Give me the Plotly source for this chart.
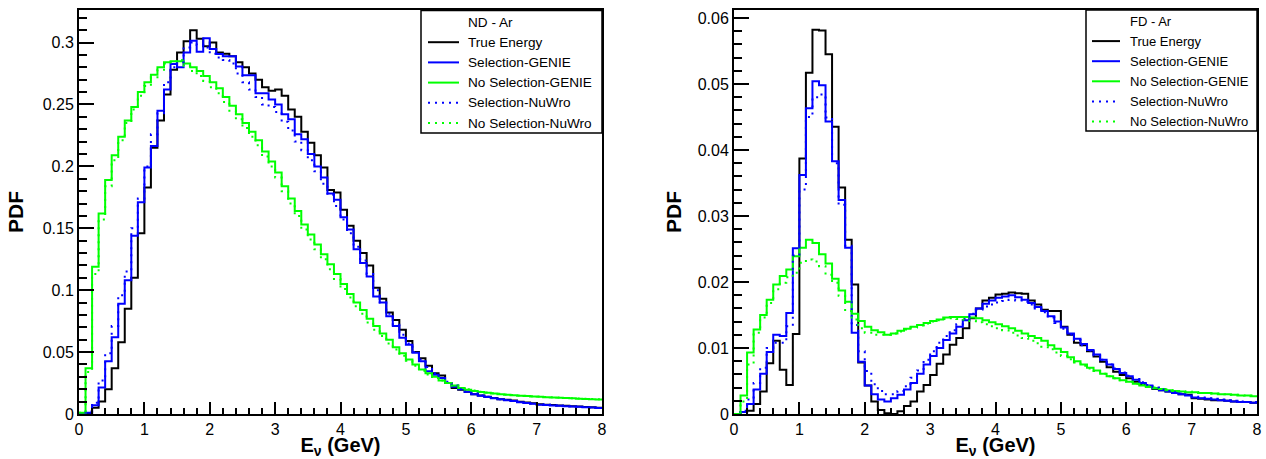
import plotly.graph_objects as go

# ---------------- data (PDF per 0.1 GeV bin, 0 - 8 GeV) ----------------
energy_edges = [round(0.1 * i, 1) for i in range(81)]

nd_true = [0.0, 0.0, 0.005, 0.010, 0.020, 0.037, 0.058, 0.085, 0.110, 0.146,
           0.183, 0.215, 0.237, 0.258, 0.278, 0.292, 0.301, 0.310, 0.303, 0.297,
           0.300, 0.292, 0.291, 0.289, 0.284, 0.280, 0.275, 0.270, 0.264, 0.261,
           0.262, 0.257, 0.246, 0.240, 0.228, 0.219, 0.209, 0.199, 0.181, 0.179,
           0.165, 0.152, 0.140, 0.130, 0.120, 0.102, 0.093, 0.082, 0.076, 0.068,
           0.059, 0.050, 0.045, 0.039, 0.033, 0.031, 0.025, 0.021, 0.0195, 0.018,
           0.016, 0.015, 0.014, 0.013, 0.012, 0.0115, 0.011, 0.0098, 0.0092, 0.0086,
           0.0078, 0.0075, 0.0072, 0.0069, 0.0066, 0.0063, 0.006, 0.0057, 0.0054, 0.0051]

nd_sel_genie = [0.0, 0.001, 0.007, 0.0215, 0.0426, 0.062, 0.089, 0.108, 0.144, 0.171,
                0.199, 0.2165, 0.245, 0.262, 0.2826, 0.280, 0.292, 0.3014, 0.2926, 0.3034,
                0.2947, 0.2907, 0.289, 0.289, 0.2806, 0.2737, 0.2737, 0.259, 0.259, 0.254,
                0.250, 0.242, 0.238, 0.226, 0.222, 0.210, 0.200, 0.191, 0.178, 0.173,
                0.159, 0.149, 0.133, 0.122, 0.111, 0.095, 0.090, 0.079, 0.071, 0.0615,
                0.056, 0.0494, 0.0427, 0.0345, 0.0318, 0.029, 0.025, 0.022, 0.020, 0.018,
                0.016, 0.0148, 0.0138, 0.0128, 0.0119, 0.0112, 0.0105, 0.0095, 0.0088, 0.0082,
                0.0075, 0.0072, 0.0069, 0.0066, 0.0063, 0.0061, 0.0058, 0.0055, 0.0052, 0.0049]

nd_nosel_genie = [0.001, 0.037, 0.119, 0.162, 0.189, 0.209, 0.224, 0.237, 0.248, 0.260,
                  0.268, 0.274, 0.280, 0.284, 0.285, 0.285, 0.283, 0.280, 0.277, 0.273,
                  0.268, 0.263, 0.256, 0.249, 0.242, 0.235, 0.228, 0.221, 0.212, 0.204,
                  0.195, 0.184, 0.174, 0.164, 0.153, 0.145, 0.137, 0.129, 0.121, 0.113,
                  0.105, 0.097, 0.090, 0.084, 0.077, 0.071, 0.065, 0.060, 0.054, 0.049,
                  0.044, 0.040, 0.036, 0.033, 0.030, 0.027, 0.025, 0.023, 0.021, 0.0195,
                  0.0185, 0.0178, 0.0172, 0.0166, 0.016, 0.0155, 0.0151, 0.0148, 0.0145, 0.0142,
                  0.0139, 0.0136, 0.0133, 0.0131, 0.0129, 0.0127, 0.0124, 0.0122, 0.012, 0.0118]

nd_sel_nuwro = [0.0, 0.002, 0.009, 0.027, 0.049, 0.071, 0.096, 0.115, 0.150, 0.174,
                0.200, 0.226, 0.243, 0.268, 0.280, 0.284, 0.296, 0.300, 0.298, 0.296,
                0.291, 0.288, 0.286, 0.283, 0.275, 0.268, 0.262, 0.256, 0.250, 0.248,
                0.244, 0.236, 0.229, 0.220, 0.213, 0.205, 0.196, 0.186, 0.177, 0.168,
                0.157, 0.146, 0.135, 0.124, 0.113, 0.100, 0.090, 0.081, 0.072, 0.064,
                0.057, 0.050, 0.044, 0.038, 0.033, 0.029, 0.026, 0.023, 0.020, 0.018,
                0.0165, 0.015, 0.014, 0.013, 0.012, 0.0113, 0.0106, 0.0098, 0.0091, 0.0085,
                0.008, 0.0076, 0.0072, 0.0068, 0.0065, 0.0062, 0.0059, 0.0056, 0.0053, 0.005]

nd_nosel_nuwro = [0.001, 0.034, 0.113, 0.157, 0.184, 0.205, 0.221, 0.235, 0.246, 0.257,
                  0.265, 0.272, 0.278, 0.283, 0.285, 0.286, 0.281, 0.277, 0.273, 0.269,
                  0.264, 0.259, 0.252, 0.245, 0.238, 0.231, 0.224, 0.217, 0.208, 0.200,
                  0.191, 0.180, 0.170, 0.160, 0.149, 0.141, 0.133, 0.125, 0.117, 0.109,
                  0.101, 0.094, 0.087, 0.081, 0.074, 0.068, 0.063, 0.057, 0.052, 0.047,
                  0.043, 0.039, 0.035, 0.032, 0.029, 0.027, 0.025, 0.023, 0.021, 0.020,
                  0.019, 0.018, 0.0174, 0.0168, 0.0163, 0.0158, 0.0154, 0.015, 0.0147, 0.0144,
                  0.0141, 0.0138, 0.0135, 0.0133, 0.013, 0.0128, 0.0126, 0.0124, 0.0122, 0.012]

fd_true = [0.0, 0.0003, 0.0005, 0.0015, 0.0034, 0.0077, 0.0111, 0.0067, 0.0044, 0.0121,
           0.0387, 0.0517, 0.0582, 0.0581, 0.0545, 0.0435, 0.0343, 0.0264, 0.0196, 0.0078,
           0.0043, 0.0019, 0.0006, 0.0001, 0.0, 0.0004, 0.0012, 0.0019, 0.0034, 0.0044,
           0.0059, 0.0076, 0.0090, 0.0105, 0.0115, 0.0130, 0.0145, 0.0160, 0.0172, 0.0176,
           0.0181, 0.0182, 0.0184, 0.0183, 0.0182, 0.0172, 0.0166, 0.0158, 0.0156, 0.0156,
           0.0132, 0.0120, 0.0108, 0.0104, 0.0095, 0.0087, 0.0079, 0.0071, 0.0064, 0.0059,
           0.0054, 0.0049, 0.0045, 0.0042, 0.0038, 0.0036, 0.0034, 0.0032, 0.0030, 0.0029,
           0.0024, 0.0023, 0.0022, 0.0021, 0.0021, 0.0020, 0.0019, 0.0018, 0.0018, 0.0017]

fd_sel_genie = [0.0, 0.0003, 0.0015, 0.0037, 0.0061, 0.0094, 0.0120, 0.0118, 0.0153, 0.0251,
                0.0362, 0.0463, 0.0504, 0.0498, 0.0443, 0.0383, 0.0324, 0.0252, 0.0123, 0.0079,
                0.0043, 0.0030, 0.0022, 0.0019, 0.0024, 0.0029, 0.0037, 0.0047, 0.0061, 0.0075,
                0.0088, 0.0100, 0.0112, 0.0122, 0.0132, 0.0142, 0.0151, 0.0160, 0.0167, 0.0172,
                0.0176, 0.0178, 0.0180, 0.0177, 0.0173, 0.0168, 0.0162, 0.0156, 0.0148, 0.0140,
                0.0131, 0.0122, 0.0114, 0.0106, 0.0097, 0.0090, 0.0082, 0.0075, 0.0068, 0.0062,
                0.0057, 0.0052, 0.0047, 0.0043, 0.0039, 0.0036, 0.0034, 0.0032, 0.0030, 0.0028,
                0.0025, 0.0024, 0.0023, 0.0022, 0.0021, 0.0020, 0.0019, 0.0018, 0.0018, 0.0017]

fd_nosel_genie = [0.0, 0.0028, 0.0093, 0.0128, 0.0150, 0.0173, 0.0196, 0.0209, 0.0219, 0.0239,
                  0.0252, 0.0264, 0.0259, 0.0242, 0.0228, 0.0205, 0.0187, 0.0170, 0.0152, 0.0141,
                  0.0132, 0.0127, 0.0124, 0.0120, 0.0122, 0.0126, 0.0129, 0.0132, 0.0135, 0.0138,
                  0.0141, 0.0143, 0.0146, 0.0147, 0.0147, 0.0147, 0.0146, 0.0145, 0.0142, 0.0139,
                  0.0136, 0.0133, 0.0130, 0.0126, 0.0122, 0.0118, 0.0115, 0.0111, 0.0104, 0.0099,
                  0.0094, 0.0086, 0.0080, 0.0075, 0.0070, 0.0066, 0.0061, 0.0057, 0.0054, 0.0051,
                  0.0049, 0.0046, 0.0043, 0.0041, 0.0039, 0.0038, 0.0036, 0.0035, 0.0034, 0.0033,
                  0.0033, 0.0032, 0.0032, 0.0031, 0.0030, 0.0030, 0.0029, 0.0028, 0.0028, 0.0027]

fd_sel_nuwro = [0.0, 0.0005, 0.0022, 0.0047, 0.0070, 0.0100, 0.0108, 0.0108, 0.0133, 0.0240,
                0.0340, 0.0450, 0.0480, 0.0484, 0.0449, 0.0380, 0.0317, 0.0255, 0.0135, 0.0095,
                0.0065, 0.0045, 0.0035, 0.0030, 0.0030, 0.0035, 0.0042, 0.0055, 0.0066, 0.0082,
                0.0095, 0.0108, 0.0118, 0.0127, 0.0136, 0.0144, 0.0152, 0.0158, 0.0163, 0.0166,
                0.0169, 0.0171, 0.0173, 0.0172, 0.0170, 0.0166, 0.0160, 0.0154, 0.0146, 0.0138,
                0.0129, 0.0120, 0.0112, 0.0104, 0.0096, 0.0089, 0.0082, 0.0075, 0.0069, 0.0063,
                0.0058, 0.0053, 0.0048, 0.0044, 0.0040, 0.0037, 0.0035, 0.0033, 0.0031, 0.0029,
                0.0026, 0.0025, 0.0024, 0.0023, 0.0022, 0.0021, 0.0020, 0.0019, 0.0018, 0.0018]

fd_nosel_nuwro = [0.0, 0.0019, 0.0075, 0.0123, 0.0146, 0.0168, 0.0189, 0.0199, 0.0207, 0.0214,
                  0.0229, 0.0234, 0.0231, 0.0224, 0.0211, 0.0199, 0.0179, 0.0156, 0.0143, 0.0130,
                  0.0123, 0.0120, 0.0120, 0.0120, 0.0122, 0.0125, 0.0128, 0.0131, 0.0134, 0.0137,
                  0.0140, 0.0142, 0.0144, 0.0145, 0.0144, 0.0143, 0.0141, 0.0139, 0.0136, 0.0133,
                  0.0130, 0.0127, 0.0123, 0.0119, 0.0115, 0.0111, 0.0107, 0.0102, 0.0098, 0.0093,
                  0.0088, 0.0083, 0.0078, 0.0073, 0.0069, 0.0065, 0.0061, 0.0057, 0.0054, 0.0051,
                  0.0049, 0.0046, 0.0044, 0.0042, 0.0040, 0.0038, 0.0037, 0.0036, 0.0035, 0.0034,
                  0.0033, 0.0032, 0.0032, 0.0031, 0.0031, 0.0030, 0.0029, 0.0029, 0.0028, 0.0028]

series_names = ["True Energy", "Selection-GENIE", "No Selection-GENIE",
                "Selection-NuWro", "No Selection-NuWro"]
series_colors = ["#000000", "#0000ff", "#00ff00", "#0000ff", "#00ff00"]
series_dash = ["solid", "solid", "solid", "2px,5px", "2px,5px"]

nd_series = [nd_true, nd_sel_genie, nd_nosel_genie, nd_sel_nuwro, nd_nosel_nuwro]
fd_series = [fd_true, fd_sel_genie, fd_nosel_genie, fd_sel_nuwro, fd_nosel_nuwro]
panel_headers = ["ND - Ar", "FD - Ar"]

FONT = "Liberation Sans, Arial, Helvetica, sans-serif"

W, H = 1266, 459
ML, MR, MT, MB = 79, 9, 10, 45
pw = W - ML - MR
ph = H - MT - MB


def px_x(px):
    return (px - ML) / pw


def px_y(py):
    return (H - MB - py) / ph


xdom1 = [0, px_x(602)]
xdom2 = [px_x(734), 1]

fig = go.Figure()

for series, xa, ya in [(nd_series, "x", "y"), (fd_series, "x2", "y2")]:
    for vals, name, col, dash in zip(series, series_names, series_colors, series_dash):
        fig.add_trace(go.Scatter(
            x=energy_edges, y=list(vals) + [vals[-1]], mode="lines",
            line=dict(color=col, width=2, dash=dash, shape="hv"),
            name=name, xaxis=xa, yaxis=ya, showlegend=False))

# ---------------- ROOT-style legend boxes ----------------
shapes, annotations = [], []
legend_boxes = [
    dict(x0=421, x1=602, y0=10.5, yb=133, yh=22, step=20.2, lx0=428, lx1=459, tx=466, fs=13.6),
    dict(x0=1086, x1=1257, y0=10, yb=131, yh=21, step=20.1, lx0=1092, lx1=1120, tx=1128, fs=13.0),
]
for header, lb in zip(panel_headers, legend_boxes):
    shapes.append(dict(type="rect", xref="paper", yref="paper",
                       x0=px_x(lb["x0"]), x1=px_x(lb["x1"]),
                       y0=px_y(lb["yb"]), y1=px_y(lb["y0"]),
                       line=dict(color="black", width=1.5), fillcolor="white",
                       layer="above"))
    annotations.append(dict(text=header, xref="paper", yref="paper",
                            x=px_x(lb["tx"]), y=px_y(lb["yh"]), xanchor="left",
                            yanchor="middle", showarrow=False,
                            font=dict(family=FONT, size=lb["fs"], color="black")))
    for i, (name, col, dash) in enumerate(zip(series_names, series_colors, series_dash)):
        yy = px_y(lb["yh"] + lb["step"] * (i + 1))
        shapes.append(dict(type="line", xref="paper", yref="paper",
                           x0=px_x(lb["lx0"]), x1=px_x(lb["lx1"]), y0=yy, y1=yy,
                           line=dict(color=col, width=2, dash=dash), layer="above"))
        annotations.append(dict(text=name, xref="paper", yref="paper",
                                x=px_x(lb["tx"]), y=yy, xanchor="left",
                                yanchor="middle", showarrow=False,
                                font=dict(family=FONT, size=lb["fs"], color="black")))


def xaxis_cfg(domain, anchor):
    return dict(domain=domain, anchor=anchor, range=[0, 8], dtick=1, tick0=0,
                ticks="inside", ticklen=12, tickwidth=2, tickcolor="black",
                minor=dict(dtick=0.2, ticks="inside", ticklen=6, tickwidth=2,
                           tickcolor="black", showgrid=False),
                showline=True, linewidth=2, linecolor="black", mirror=True,
                showgrid=False, zeroline=False, automargin=False,
                tickfont=dict(family=FONT, size=16, color="black"),
                title=dict(text="<b>E<sub>ν</sub> (GeV)</b>", standoff=9,
                           font=dict(family=FONT, size=20, color="black")))


def yaxis_cfg(anchor, ymax, major, minor, standoff):
    return dict(domain=[0, 1], anchor=anchor, range=[0, ymax], dtick=major, tick0=0,
                ticks="inside", ticklen=15, tickwidth=2, tickcolor="black",
                minor=dict(dtick=minor, ticks="inside", ticklen=8, tickwidth=2,
                           tickcolor="black", showgrid=False),
                showline=True, linewidth=2, linecolor="black", mirror=True,
                showgrid=False, zeroline=False, automargin=False,
                tickfont=dict(family=FONT, size=16, color="black"),
                title=dict(text="<b>PDF</b>", standoff=standoff,
                           font=dict(family=FONT, size=21, color="black")))


fig.update_layout(
    width=W, height=H,
    margin=dict(l=ML, r=MR, t=MT, b=MB, pad=0),
    paper_bgcolor="white", plot_bgcolor="white",
    showlegend=False,
    xaxis=xaxis_cfg(xdom1, "y"),
    yaxis=yaxis_cfg("x", 0.3263, 0.05, 0.01, 13),
    xaxis2=xaxis_cfg(xdom2, "y2"),
    yaxis2=yaxis_cfg("x2", 0.0612, 0.01, 0.002, 10),
    shapes=shapes,
    annotations=annotations,
)

fig.write_html("out.html", config={"displayModeBar": False},
               post_script="document.body.style.margin='0px';document.body.style.overflow='hidden';")
